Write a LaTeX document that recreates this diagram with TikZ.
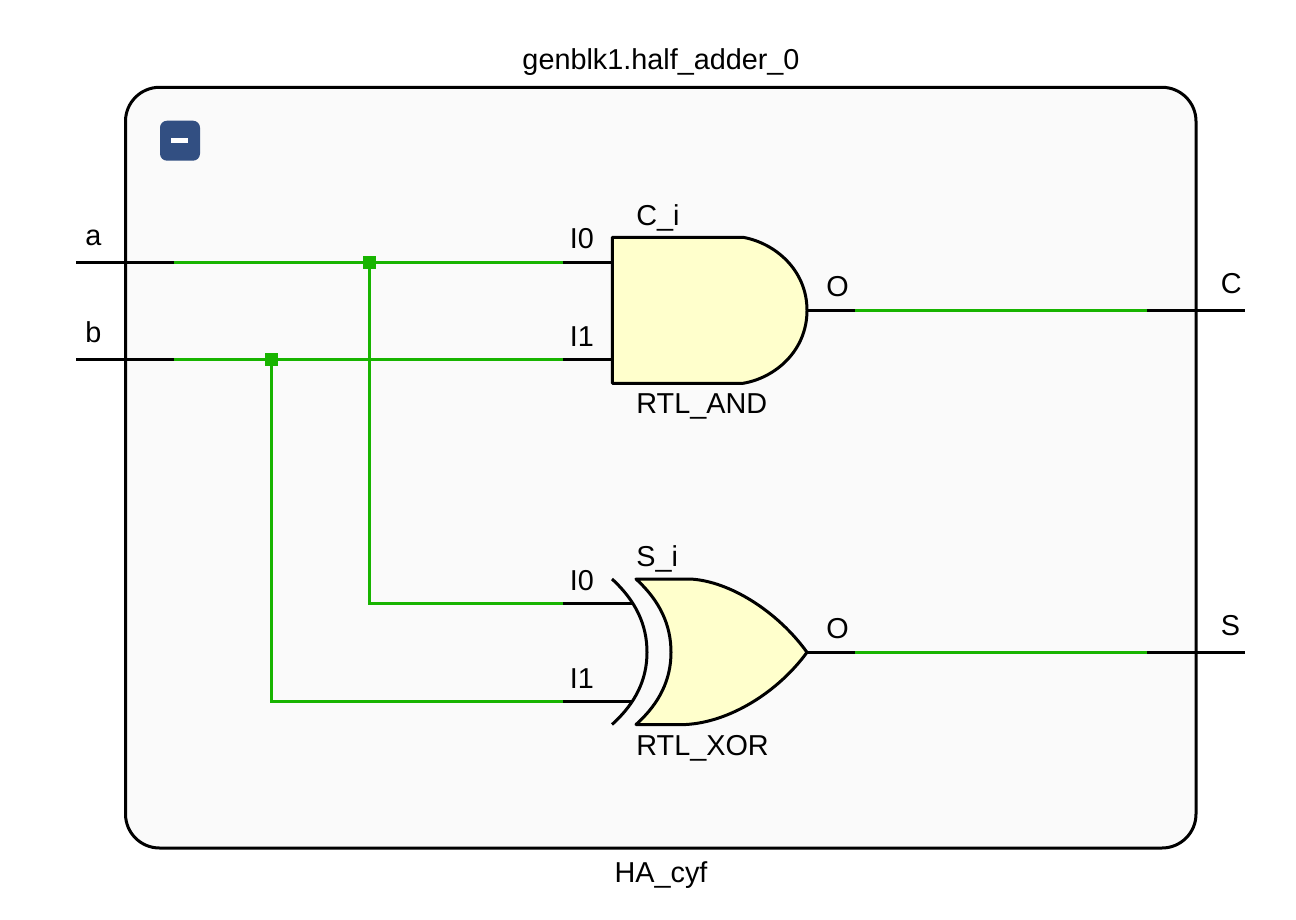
\documentclass[tikz,border=0pt]{standalone}
\usepackage{fontspec}
\setmainfont{Liberation Sans}
\usepackage{tikz}
\usetikzlibrary{positioning}
\definecolor{netgreen}{HTML}{18B400}
\definecolor{boxgray}{HTML}{FAFAFA}
\definecolor{gateyellow}{HTML}{FFFFCC}
\definecolor{btnblue}{HTML}{324F82}
\tikzset{
	lbl/.style={anchor=base west,inner sep=0pt,font=\fontsize{14.4}{16}\selectfont},
	lblc/.style={anchor=base,inner sep=0pt,font=\fontsize{14.4}{16}\selectfont},
	pinwire/.style={draw=black,line width=1.5pt},
	netwire/.style={draw=netgreen,line width=1.5pt},
	gatebody/.style={draw=black,fill=gateyellow,line width=1.5pt,line join=round},
	junction/.style={fill=netgreen,inner sep=0pt,minimum size=6.5pt}
}
\begin{document}
\begin{tikzpicture}[x=0.5pt,y=-0.5pt]
	\useasboundingbox (0,0) rectangle (1296,920);
	% block
	\draw[fill=boxgray,line width=1.5pt,rounded corners=17pt] (125.5,87.3) rectangle (1196,848);
	\node[lblc] (title) at (661,70) {genblk1.half\_adder\_0};
	\node[lblc] (cellname) at (661,882) {HA\_cyf};
	\fill[btnblue,rounded corners=3.5pt] (160,120.7) rectangle (200,160.7);
	\fill[white] (171,138) rectangle (188,142.7);
	% ports and net corners
	\coordinate (ain) at (76,262.3);
	\coordinate (aout) at (174,262.3);
	\coordinate (bin) at (76,359.3);
	\coordinate (bout) at (174,359.3);
	\coordinate (andI0) at (612,262.3);
	\coordinate (andI0w) at (563,262.3);
	\coordinate (andI1) at (612,359.3);
	\coordinate (andI1w) at (563,359.3);
	\coordinate (andO) at (807,310.3);
	\coordinate (andOw) at (855,310.3);
	\coordinate (xorI0) at (632,603.3);
	\coordinate (xorI0w) at (563,603.3);
	\coordinate (xorI1) at (632,701.3);
	\coordinate (xorI1w) at (563,701.3);
	\coordinate (xorO) at (807,652.3);
	\coordinate (xorOw) at (855,652.3);
	\coordinate (cin) at (1147,310.3);
	\coordinate (cout) at (1245,310.3);
	\coordinate (sin) at (1147,652.3);
	\coordinate (sout) at (1245,652.3);
	\node[junction] (ja) at (369.5,262.3) {};
	\node[junction] (jb) at (271,359.3) {};
	% black pin stubs
	\draw[pinwire] (ain) -- (aout);
	\draw[pinwire] (bin) -- (bout);
	\draw[pinwire] (andI0w) -- (andI0);
	\draw[pinwire] (andI1w) -- (andI1);
	\draw[pinwire] (andO) -- (andOw);
	\draw[pinwire] (xorI0w) -- (xorI0);
	\draw[pinwire] (xorI1w) -- (xorI1);
	\draw[pinwire] (xorO) -- (xorOw);
	\draw[pinwire] (cin) -- (cout);
	\draw[pinwire] (sin) -- (sout);
	% green nets
	\draw[netwire] (aout) -- (andI0w);
	\draw[netwire] (bout) -- (andI1w);
	\draw[netwire] (ja.center) |- (xorI0w);
	\draw[netwire] (jb.center) |- (xorI1w);
	\draw[netwire] (andOw) -- (cin);
	\draw[netwire] (xorOw) -- (sin);
	\node[junction] at (ja) {};
	\node[junction] at (jb) {};
	% and gate
	\draw[gatebody] (612.3,237.3) -- (743,237.3) .. controls (775,243) and (807,270) .. (andO)
		.. controls (807,351) and (775,378) .. (743,383.3) -- (612.3,383.3) -- cycle;
	% xor gate
	\draw[gatebody] (636,579) -- (690,579) .. controls (730,581) and (778,612) .. (xorO)
		.. controls (778,692) and (730,722) .. (686,724.5) -- (636,724.5)
		.. controls (660,703) and (671,679) .. (671,652.3)
		.. controls (671,625) and (660,601) .. cycle;
	\draw[line width=1.5pt] (612,579) .. controls (636,601) and (647,625) .. (647,652.3)
		.. controls (647,679) and (636,703) .. (612,724.5);
	% labels
	\node[lbl] (la) at (85,245) {a};
	\node[lbl] (lb) at (85,342) {b};
	\node[lbl] (lc) at (1220.5,293) {C};
	\node[lbl] (ls) at (1220.5,635) {S};
	\node[lbl] (landI0) at (569.5,248) {I0};
	\node[lbl] (landI1) at (569.5,346) {I1};
	\node[lbl] (landname) at (636,225) {C\_i};
	\node[lbl] (landtype) at (636,413) {RTL\_AND};
	\node[lbl] (landO) at (826,296) {O};
	\node[lbl] (lxorI0) at (569.5,590) {I0};
	\node[lbl] (lxorI1) at (569.5,688) {I1};
	\node[lbl] (lxorname) at (636,566) {S\_i};
	\node[lbl] (lxortype) at (636,755) {RTL\_XOR};
	\node[lbl] (lxorO) at (826,638) {O};
\end{tikzpicture}
\end{document}
